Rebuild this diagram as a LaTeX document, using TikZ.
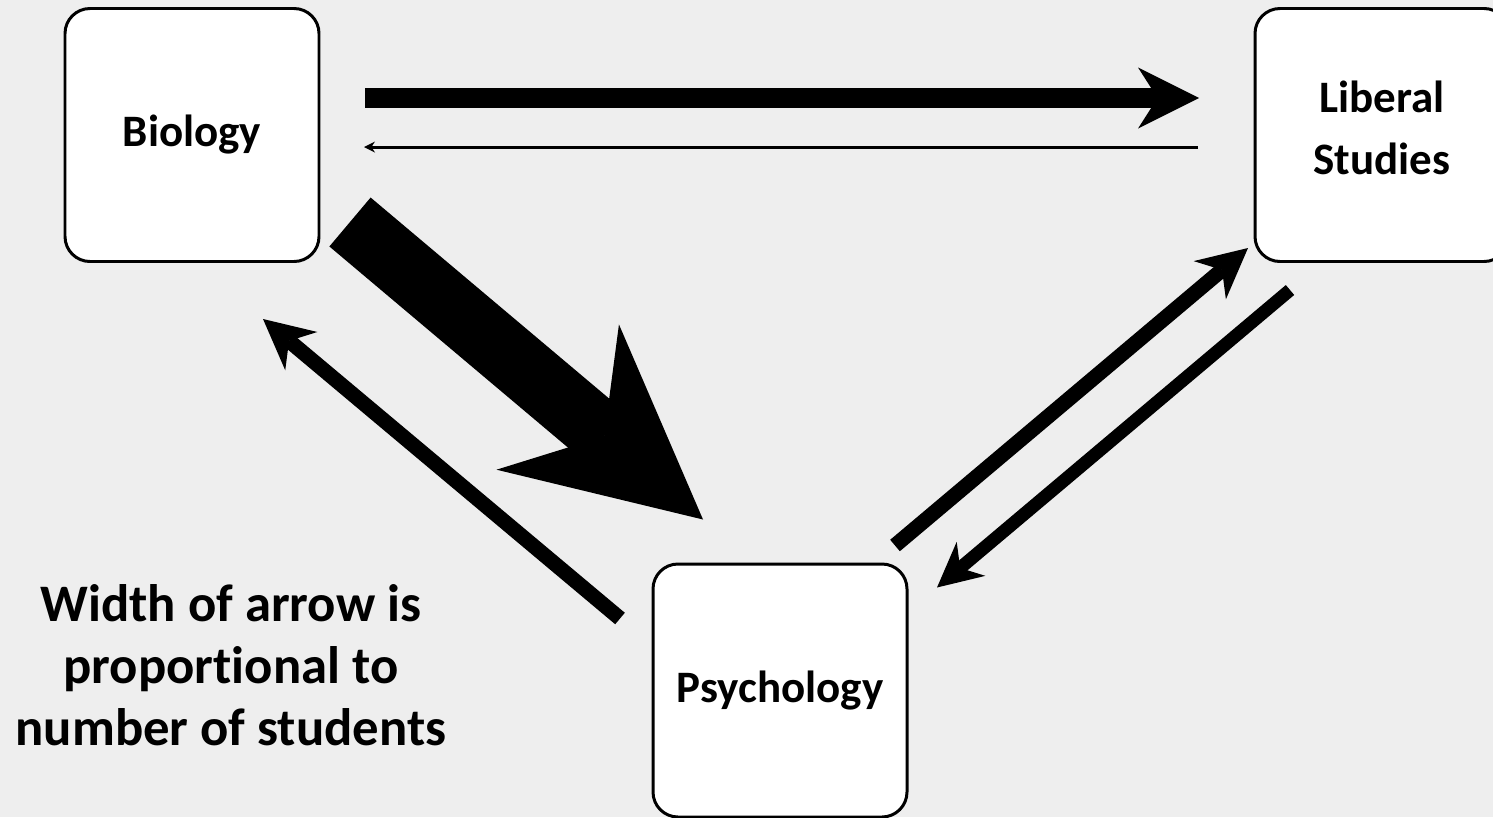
\documentclass[tikz,border=0pt]{standalone}
\usepackage{fontspec}
\setmainfont{Carlito}[Ligatures=NoCommon]
\usetikzlibrary{positioning}
\usetikzlibrary{arrows.meta}

\definecolor{bgpanel}{HTML}{EEEEEE}

\begin{document}
\begin{tikzpicture}
    [
    on grid,
    subject/.style={draw, rectangle, rounded corners=2.5mm, fill=white, line width=0.85pt,
        minimum width=2.54cm, minimum height=2.53cm, outer sep=0pt, align=center,
        font=\fontsize{12.8}{17.6}\selectfont\bfseries},
    legend/.style={align=center, inner sep=0pt, font=\fontsize{15}{17.6}\selectfont\bfseries},
    flow/.style 2 args={line width=#1, -{Stealth[length=#2, width'=0pt 1, inset'=0pt 0.32, line width=0pt]}},
    ]

    \useasboundingbox (0,0) rectangle (14.93,-8.17);
    \fill[bgpanel] (0,0) rectangle (14.93,-8.17);

    \node[subject] (biology) at (1.92,-1.35) {Biology};
    \node[subject, right = 11.9cm of biology, text depth=1.4mm] (liberal) {Liberal\\Studies};
    \node[subject, below right = 5.555cm and 5.88cm of biology] (psychology) {Psychology};

    \node[legend] (note) at (2.31,-6.65) {Width of arrow is\\proportional to\\number of students};

    % biology <-> liberal studies
    \draw[flow={2mm}{6.1mm}] ([xshift=4.6mm, yshift=3.7mm]biology.east) -- ([xshift=-5.6mm, yshift=3.7mm]liberal.west);
    \draw[flow={0.3mm}{1.1mm}] ([xshift=-5.7mm, yshift=-1.2mm]liberal.west) -- ([xshift=4.5mm, yshift=-1.2mm]biology.east);

    % biology <-> psychology
    \draw[flow={6.4mm}{19mm}] ([xshift=3.1mm, yshift=3.95mm]biology.south east) -- ([xshift=5mm, yshift=4.45mm]psychology.north west);
    \draw[flow={1.5mm}{5mm}] ([xshift=-3.3mm, yshift=-5.45mm]psychology.north west) -- ([xshift=-5.6mm, yshift=-5.75mm]biology.south east);

    % psychology <-> liberal studies
    \draw[flow={1.5mm}{5mm}] ([xshift=-1.2mm, yshift=1.85mm]psychology.north east) -- ([xshift=-0.7mm, yshift=1.35mm]liberal.south west);
    \draw[flow={1.3mm}{4.45mm}] ([xshift=3.5mm, yshift=-2.85mm]liberal.south west) -- ([xshift=3mm, yshift=-2.35mm]psychology.north east);
\end{tikzpicture}
\end{document}
